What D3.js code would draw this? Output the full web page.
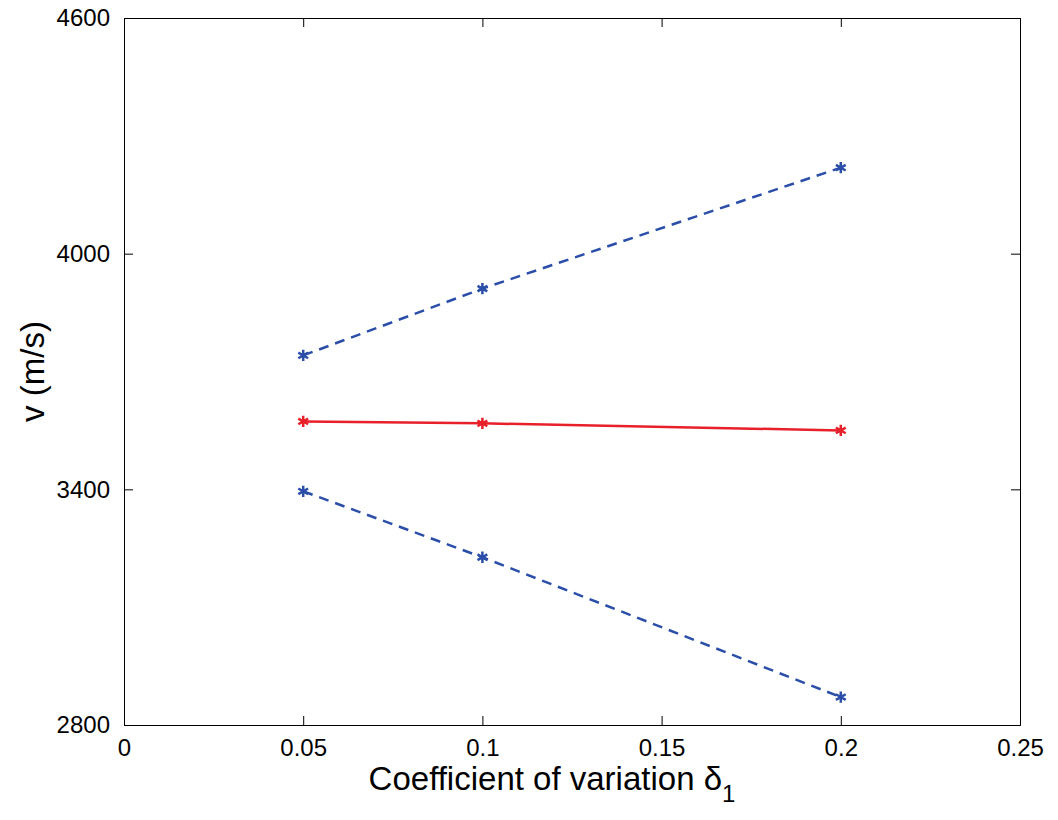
<!DOCTYPE html>
<html><head><meta charset="utf-8">
<script src="https://cdn.jsdelivr.net/npm/d3@7"></script>
<style>body{margin:0;background:#fff}text{font-family:"Liberation Sans",Arial,sans-serif}</style>
</head><body><div id="chart"></div>
<script>
const xs = [0.05, 0.1, 0.2];
const upper = [3741, 3911, 4219];
const mean = [3573, 3568, 3550];
const lower = [3395, 3227, 2871];
const xTicks = [0, 0.05, 0.1, 0.15, 0.2, 0.25];
const yTicks = [2800, 3400, 4000, 4600];

const W = 1058, H = 820;
const margin = {top: 18, right: 38, bottom: 95, left: 124};
const width = W - margin.left - margin.right, height = H - margin.top - margin.bottom;

const svg = d3.select("#chart").append("svg").attr("width", W).attr("height", H)
  .append("g").attr("transform", "translate(" + margin.left + "," + margin.top + ")");

const x = d3.scaleLinear().domain([0, 0.25]).range([0, width]);
const y = d3.scaleLinear().domain([2800, 4600]).range([height, 0]);

// ticks inward, box
const tl = 9;
svg.append("g").attr("transform", "translate(0," + height + ")")
  .call(d3.axisBottom(x).tickValues(xTicks).tickSize(-tl).tickPadding(14).tickFormat(d => String(d)));
svg.append("g").call(d3.axisTop(x).tickValues(xTicks).tickSize(-tl).tickFormat(""));
svg.append("g").call(d3.axisLeft(y).tickValues(yTicks).tickSize(-tl).tickPadding(14).tickFormat(d => String(d)));
svg.append("g").attr("transform", "translate(" + width + ",0)")
  .call(d3.axisRight(y).tickValues(yTicks).tickSize(-tl).tickFormat(""));
svg.selectAll(".domain").attr("stroke", "#000");
svg.selectAll(".tick line").attr("stroke", "#000");
svg.selectAll(".tick text").attr("font-size", 24).attr("fill", "#000");

const line = d3.line().x((d, i) => x(xs[i])).y(d => y(d));
function series(data, color, dash) {
  svg.append("path").datum(data).attr("d", line).attr("fill", "none")
    .attr("stroke", color).attr("stroke-width", 2.5).attr("stroke-dasharray", dash);
  svg.append("g").selectAll("path").data(data).enter().append("path")
    .attr("transform", (d, i) => "translate(" + x(xs[i]) + "," + y(d) + ")")
    .attr("d", d3.symbol(d3.symbolAsterisk, 90)())
    .attr("stroke", color).attr("stroke-width", 2.5).attr("fill", color);
}
series(upper, "#2b4fa8", "10,7");
series(lower, "#2b4fa8", "10,7");
series(mean, "#e8202a", null);

svg.append("text").attr("x", width / 2 - 20).attr("y", height + 65).attr("text-anchor", "middle")
  .attr("font-size", 33).text("Coefficient of variation δ")
  .append("tspan").attr("font-size", 24).attr("dy", 12).text("1");
svg.append("text").attr("transform", "translate(-80," + height / 2 + ") rotate(-90)")
  .attr("text-anchor", "middle").attr("font-size", 33).text("v (m/s)");
</script></body></html>
